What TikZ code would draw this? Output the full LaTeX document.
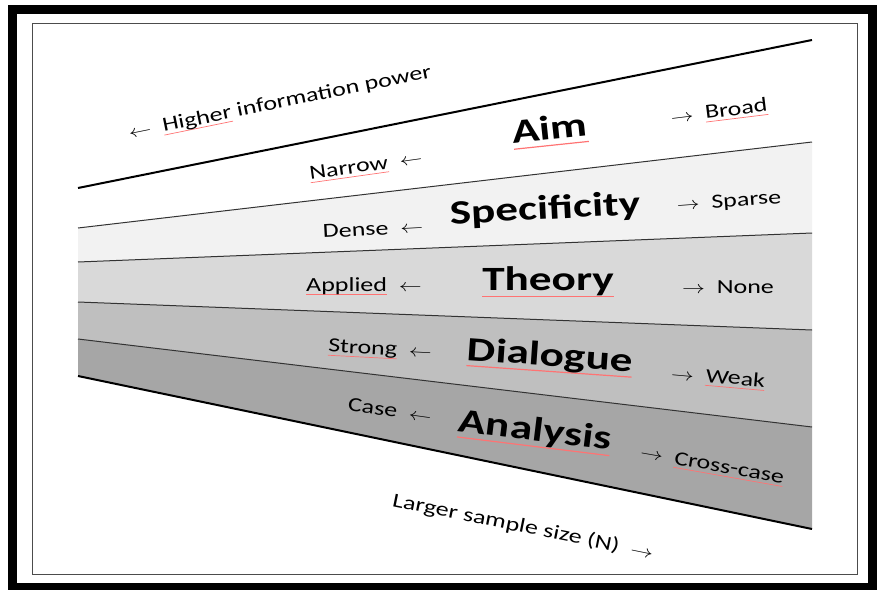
\documentclass[tikz,border=0pt]{standalone}
\usepackage{fontspec}
\setmainfont{Carlito}

\definecolor{bandB}{HTML}{F2F2F2}
\definecolor{bandC}{HTML}{D9D9D9}
\definecolor{bandD}{HTML}{BFBFBF}
\definecolor{bandE}{HTML}{A6A6A6}

% red spell-check line under a word
\newcommand\spellmark[1]{\setbox0\hbox{#1}\rlap{\color{red!55}\rule[-0.18em]{\wd0}{0.035em}}\box0\relax}
\newcommand\bandname[1]{{\fontsize{34}{40}\selectfont\bfseries\scalebox{1.33}[1]{#1}}}
\newcommand\pole[1]{{\fontsize{20}{24}\selectfont\scalebox{1.3}[1]{#1}}}
\newcommand\toleft{\scalebox{0.85}{$\leftarrow$}}
\newcommand\toright{\scalebox{0.85}{$\rightarrow$}}

\begin{document}
\begin{tikzpicture}[x=1pt, y=-1pt,
% Line styles
 edge/.style={draw, line width=2pt},
 divider/.style={draw=black!80, line width=1pt},
% Label styles
 label/.style={inner sep=0pt, anchor=center}
]
\useasboundingbox (0,0) rectangle (877,589);

% frame
\draw[line width=9pt] (12.5,9) rectangle (872.5,587.5);
\draw[black!70, line width=1pt] (32,23) rectangle (857,574);

% band corners
\coordinate (l1) at (78,188); \coordinate (r1) at (812,40);
\coordinate (l2) at (78,228); \coordinate (r2) at (812,142);
\coordinate (l3) at (78,262); \coordinate (r3) at (812,233);
\coordinate (l4) at (78,302); \coordinate (r4) at (812,330);
\coordinate (l5) at (78,339); \coordinate (r5) at (812,427);
\coordinate (l6) at (78,376); \coordinate (r6) at (812,529);

\fill[bandB] (l2) -- (r2) -- (r3) -- (l3) -- cycle;
\fill[bandC] (l3) -- (r3) -- (r4) -- (l4) -- cycle;
\fill[bandD] (l4) -- (r4) -- (r5) -- (l5) -- cycle;
\fill[bandE] (l5) -- (r5) -- (r6) -- (l6) -- cycle;

\draw[edge] (l1) -- (r1);
\draw[divider] (l2) -- (r2);
\draw[divider] (l3) -- (r3);
\draw[divider] (l4) -- (r4);
\draw[divider] (l5) -- (r5);
\draw[edge] (l6) -- (r6);

\node[label, rotate=11.5] (power) at (280,103) {\pole{\toleft\ \ \spellmark{Higher} information power}};

\node[label, rotate=8] (narrow) at (366,167) {\pole{\spellmark{Narrow}\ \ \toleft}};
\node[label, rotate=6] (aim) at (550,131) {\bandname{\spellmark{Aim}}};
\node[label, rotate=7] (broad) at (719,112) {\pole{\toright\ \ \spellmark{Broad}}};

\node[label, rotate=3] (dense) at (373,229) {\pole{Dense\ \ \toleft}};
\node[label, rotate=3] (specificity) at (545,210) {\bandname{Specificity}};
\node[label, rotate=4] (sparse) at (729,202) {\pole{\toright\ \ Sparse}};

\node[label] (applied) at (364,286) {\pole{\spellmark{Applied}\ \ \toleft}};
\node[label] (theory) at (548,282) {\bandname{\spellmark{Theory}}};
\node[label] (none) at (728,287) {\pole{\toright\ \ None}};

\node[label, rotate=-3] (strong) at (380,350) {\pole{\spellmark{Strong}\ \ \toleft}};
\node[label, rotate=-4] (dialogue) at (550,357) {\bandname{\spellmark{Dialogue}}};
\node[label, rotate=-5] (weak) at (718,378) {\pole{\toright\ \ \spellmark{Weak}}};

\node[label, rotate=-8] (case) at (390,410) {\pole{Case\ \ \toleft}};
\node[label, rotate=-7] (analysis) at (535,432) {\bandname{\spellmark{Analysis}}};
\node[label, rotate=-10] (crosscase) at (712,466) {\pole{\toright\ \ \spellmark{Cross-case}}};

\node[label, rotate=-11.5] (sample) at (523,527) {\pole{Larger sample size (N)\ \ \toright}};
\end{tikzpicture}
\end{document}
